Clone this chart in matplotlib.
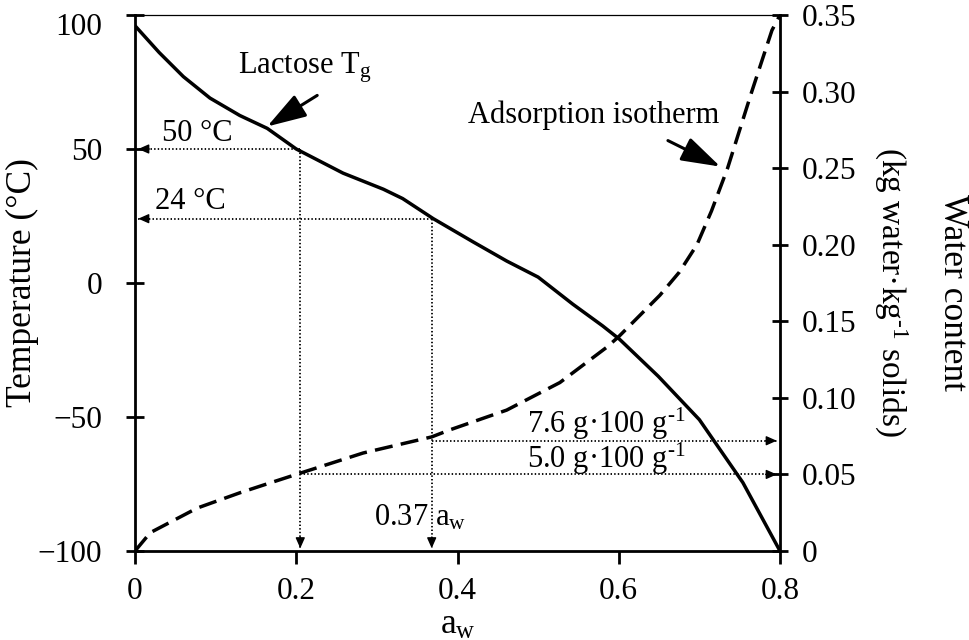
import matplotlib
matplotlib.use("Agg")
import matplotlib.pyplot as plt

plt.rcParams['font.family'] = ['Liberation Serif', 'DejaVu Serif']
plt.rcParams['mathtext.fontset'] = 'custom'
plt.rcParams['mathtext.rm'] = 'Liberation Serif'
plt.rcParams['mathtext.it'] = 'Liberation Serif:italic'
plt.rcParams['mathtext.bf'] = 'Liberation Serif:bold'

# ---- data ----
tg_aw = [0, 0.03, 0.06, 0.093, 0.13, 0.164, 0.2, 0.258, 0.308, 0.332, 0.37,
         0.419, 0.461, 0.5, 0.543, 0.58, 0.601, 0.649, 0.70, 0.754, 0.8]
tg_temp = [96, 86, 77, 69, 62.5, 57.7, 50, 41, 35, 31.5, 24,
           15.4, 8.2, 2.2, -7.9, -16, -21, -34.8, -51, -74.5, -100]

iso_aw = [0, 0.019, 0.077, 0.13, 0.159, 0.2, 0.283, 0.368, 0.39, 0.461, 0.527,
          0.585, 0.60, 0.651, 0.675, 0.697, 0.715, 0.735, 0.765, 0.79, 0.8]
iso_water = [0, 0.012, 0.028, 0.038, 0.043, 0.05, 0.064, 0.0745, 0.079, 0.092, 0.110,
             0.133, 0.140, 0.167, 0.182, 0.20, 0.222, 0.25, 0.30, 0.34, 0.35]

x_ticks = [0, 0.2, 0.4, 0.6, 0.8]
x_tick_labels = ['0', '0.2', '0.4', '0.6', '0.8']
temp_ticks = [-100, -50, 0, 50, 100]
temp_tick_labels = ['\u2212100', '\u221250', '0', '50', '']
top_temp_label = '100'
water_ticks = [0, 0.05, 0.10, 0.15, 0.20, 0.25, 0.30, 0.35]
water_tick_labels = ['0', '0.05', '0.10', '0.15', '0.20', '0.25', '0.30', '0.35']

ref_aw = [0.205, 0.368]
ref_temp = [50, 24]
ref_temp_labels = ['50 \u00b0C', '24 \u00b0C']
ref_water = [0.05, 0.072]
ref_water_labels = ['5.0 g\u00b7100 g$^{\\text{-1}}$', '7.6 g\u00b7100 g$^{\\text{-1}}$']

# ---- figure ----
fig = plt.figure(figsize=(9.7, 6.4), dpi=100)
ax = fig.add_axes([135 / 970, 89 / 640, 645 / 970, 536 / 640])
ax2 = ax.twinx()

ax.set_xlim(0, 0.8)
ax.set_ylim(-100, 100)
ax2.set_ylim(0, 0.35)

ax.plot(tg_aw, tg_temp, color='k', lw=2.5, solid_joinstyle='round')
ax2.plot(iso_aw, iso_water, color='k', lw=2.5, dashes=(5.2, 2.4))

dot = dict(color='k', lw=1.3, linestyle=(0, (0.8, 1.2)))
head_props = dict(arrowstyle='-|>,head_length=0.45,head_width=0.2',
                  color='k', lw=1, shrinkA=0, shrinkB=0, mutation_scale=14)


def head(axis, xy, back):
    axis.annotate('', xy=xy, xytext=back, textcoords='offset points',
                  arrowprops=head_props)


for a, t in zip(ref_aw, ref_temp):
    ax.plot([a, 0.004], [t, t], **dot)
    head(ax, (0.004, t), (8, 0))
    ax.plot([a, a], [t, -99], **dot)
    head(ax, (a, -99), (0, 8))

for a, w in zip(ref_aw, ref_water):
    ax2.plot([a, 0.796], [w, w], **dot)
    head(ax2, (0.796, w), (-8, 0))

fs = 22
tfs = 22.5
for lab, t, xa, yt in zip(ref_temp_labels, ref_temp, [0.0335, 0.0248], [52.8, 27.7]):
    ax.text(xa, yt, lab, fontsize=fs, ha='left', va='baseline')

for lab, yt in zip(ref_water_labels, [-68.9, -55.8]):
    ax.text(0.486, yt, lab, fontsize=fs, ha='left', va='baseline')

ax.text(0.296, -90.3, '0.37 a$_\\mathrm{w}$', fontsize=fs, ha='left', va='baseline')

# curve annotations
ax.text(0.128, 78.3, 'Lactose T$_\\mathrm{g}$', fontsize=fs, ha='left', va='baseline')
big_arrow = dict(arrowstyle='-|>,head_length=1.2,head_width=0.38', color='k',
                 lw=2.2, shrinkA=0, shrinkB=0, mutation_scale=20)
ax.annotate('', xy=(0.164, 58.4), xytext=(0.226, 70), arrowprops=big_arrow)

ax.text(0.413, 59.6, 'Adsorption isotherm', fontsize=fs, ha='left', va='baseline')
ax2.annotate('', xy=(0.726, 0.251), xytext=(0.661, 0.268), arrowprops=big_arrow)

# ---- axes styling ----
ax.set_xticks(x_ticks)
ax.set_xticklabels(x_tick_labels)
ax.set_yticks(temp_ticks)
ax.set_yticklabels(temp_tick_labels)
ax2.set_yticks(water_ticks)
ax2.set_yticklabels(water_tick_labels)

ax.tick_params(axis='y', direction='inout', length=13, width=2, pad=17, labelsize=tfs)
ax.tick_params(axis='x', direction='out', length=9, width=2, pad=10, labelsize=tfs)
ax2.tick_params(axis='y', direction='inout', length=12, width=2, pad=10, labelsize=tfs)

ax.annotate(top_temp_label, xy=(0, 100), xycoords=('axes fraction', 'data'),
            xytext=(-23.5, -9), textcoords='offset points',
            ha='right', va='center', fontsize=tfs)

for s in ['left', 'bottom']:
    ax.spines[s].set_linewidth(2)
ax.spines['top'].set_linewidth(0.9)
ax.spines['right'].set_visible(False)
for s in ['left', 'bottom', 'top']:
    ax2.spines[s].set_visible(False)
ax2.spines['right'].set_linewidth(2)

ax.set_xlabel('a$_\\mathrm{w}$', fontsize=25.5, va='center', ha='center')
ax.xaxis.set_label_coords(0.5008, -0.138)
ax.set_ylabel('Temperature (\u00b0C)', fontsize=25.5, va='center', ha='center')
ax.yaxis.set_label_coords(-0.174, 0.5)

ax2.text(1.268, 0.483, 'Water content', transform=ax2.transAxes, rotation=270,
         fontsize=25.5, ha='center', va='center')
ax2.text(1.171, 0.483, '(kg water\u00b7kg$^{\\text{-1}}$ solids)', transform=ax2.transAxes,
         rotation=270, fontsize=24, ha='center', va='center')

fig.savefig('out.png', dpi=100)
